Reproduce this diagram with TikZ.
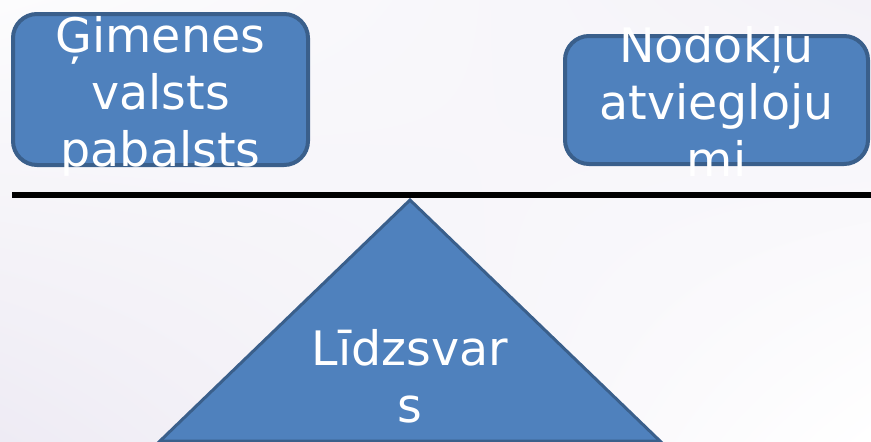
\documentclass[tikz,border=0pt]{standalone}
\usepackage{fontspec}
\setmainfont{DejaVu Sans}
\usetikzlibrary{positioning,calc,shadings}
\definecolor{boxfill}{HTML}{4F81BD}
\definecolor{boxedge}{HTML}{3A5F8B}
\definecolor{bgUL}{HTML}{FCFCFD}
\definecolor{bgUR}{HTML}{F4F2F8}
\definecolor{bgLL}{HTML}{EEEBF4}
\definecolor{bgLR}{HTML}{FFFFFF}
\tikzset{
  box/.style={draw=boxedge,fill=boxfill,line width=4pt,rounded corners=24pt,inner sep=0pt},
  boxtext/.style={text=white,align=center,font=\fontsize{47.5}{57}\selectfont,inner sep=0pt}
}

\begin{document}
\begin{tikzpicture}[x=1pt,y=-1pt]
\useasboundingbox (0,0) rectangle (871,442);
\shade[upper left=bgUL,upper right=bgUR,lower left=bgLL,lower right=bgLR] (0,0) rectangle (871,442);
% the two weights
\node[box,minimum width=295pt,minimum height=151pt] (famBox) at (160.5,89.5) {};
\node[boxtext] (famText) at ([yshift=-6.5pt]famBox.center) {Ģimenes\\valsts\\pabalsts};
\node[box,minimum width=303pt,minimum height=128pt] (taxBox) at (716.5,100) {};
\node[boxtext] (taxText) at ([yshift=-1pt]taxBox.center) {Nodokļu\\atviegloju\\mi};
% the fulcrum
\coordinate (top) at (410,200);
\coordinate (bl) at (160,441);
\coordinate (br) at (660,441);
\filldraw[fill=boxfill,draw=boxedge,line width=3pt] (top) -- (bl) -- (br) -- cycle;
\node[boxtext] (balText) at (410,376.5) {Līdzsvar\\s};
% the beam
\coordinate (beamL) at (12,195);
\coordinate (beamR) at (871,195);
\draw[line width=6pt] (beamL) -- (beamR);
\end{tikzpicture}
\end{document}
